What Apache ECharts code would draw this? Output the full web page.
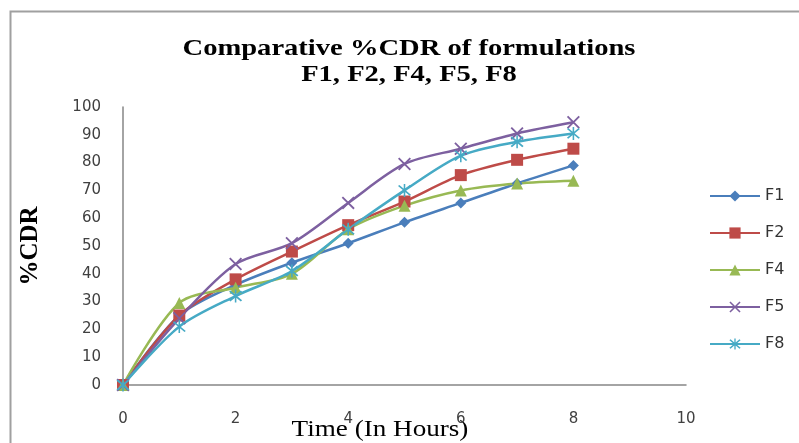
<!DOCTYPE html>
<html>
<head>
<meta charset="utf-8">
<script src="https://cdn.jsdelivr.net/npm/echarts@6/dist/echarts.min.js"></script>
<style>
  html, body { margin: 0; padding: 0; background: #fff; }
  #chart { width: 799px; height: 443px; }
</style>
</head>
<body>
<div id="chart"></div>
<script>
// Time points (hours) and cumulative drug release (%) per formulation
const hours = [0, 1, 2, 3, 4, 5, 6, 7, 8];
const f1 = [0, 25, 36, 44, 51, 58.5, 65.5, 72.5, 79];
const f2 = [0, 25, 38, 48, 57.5, 66, 75.5, 81, 85];
const f4 = [0, 29.5, 35, 40, 56, 64.5, 70, 72.5, 73.5];
const f5 = [0, 24, 43.5, 51, 65.5, 79.5, 85, 90.5, 94.5];
const f8 = [0, 21, 32, 41, 56, 70, 82.5, 87.5, 90.5];

const seriesNames = ['F1', 'F2', 'F4', 'F5', 'F8'];
const seriesValues = [f1, f2, f4, f5, f8];
const colors = ['#4A7EBB', '#BE4B48', '#98B954', '#7D60A0', '#46AAC5'];

const titleLines = ['Comparative %CDR of formulations', 'F1, F2, F4, F5, F8'];
const xAxisTitle = 'Time (In Hours)';
const yAxisTitle = '%CDR';

// marker shapes: diamond, square, triangle, x-cross, asterisk
const crossPath = 'path://M0,1 L1,0 L10,9 L9,10 Z M9,0 L10,1 L1,10 L0,9 Z';
const starPath = 'path://M0,1 L1,0 L10,9 L9,10 Z M9,0 L10,1 L1,10 L0,9 Z M4.4,-1 L5.6,-1 L5.6,11 L4.4,11 Z';
const symbols = ['diamond', 'rect', 'triangle', crossPath, starPath];
const symbolSizes = [11, 12, 12, 13, 13];

const serifFont = '"Liberation Serif", "DejaVu Serif", serif';
const sansFont = '"DejaVu Sans", "Open Sans", sans-serif';

const chart = echarts.init(document.getElementById('chart'));

chart.setOption({
  animation: false,
  backgroundColor: '#fff',
  legend: {
    orient: 'vertical',
    left: 704,
    top: 183,
    itemWidth: 50,
    itemHeight: 14,
    itemGap: 21,
    textStyle: {
      fontFamily: sansFont,
      fontSize: 16,
      color: '#333'
    },
    data: seriesNames
  },
  grid: {
    left: 123,
    right: 113,
    top: 107,
    bottom: 58,
    containLabel: false
  },
  xAxis: {
    type: 'value',
    min: 0,
    max: 10,
    interval: 2,
    axisLine: { show: true, lineStyle: { color: '#868686', width: 1.5 } },
    axisTick: { show: false },
    splitLine: { show: false },
    axisLabel: {
      margin: 27,
      fontFamily: sansFont,
      fontSize: 15,
      color: '#404040'
    }
  },
  yAxis: {
    type: 'value',
    min: 0,
    max: 100,
    interval: 10,
    name: yAxisTitle,
    nameLocation: 'middle',
    nameGap: 80,
    nameRotate: 90,
    nameTextStyle: {
      fontFamily: serifFont,
      fontWeight: 'bold',
      fontSize: 25,
      color: '#000'
    },
    axisLine: { show: true, lineStyle: { color: '#868686', width: 1.5 } },
    axisTick: { show: false },
    splitLine: { show: false },
    axisLabel: {
      margin: 22,
      fontFamily: sansFont,
      fontSize: 15,
      color: '#404040'
    }
  },
  graphic: [
    {
      type: 'rect',
      shape: { x: 10.5, y: 11.5, width: 820, height: 460 },
      style: { fill: 'none', stroke: '#a0a0a0', lineWidth: 2 },
      silent: true,
      z: -1
    },
    {
      type: 'text',
      x: 409,
      y: 37,
      scaleX: 1.19,
      style: {
        text: titleLines[0],
        font: 'bold 24px ' + serifFont,
        fill: '#000',
        align: 'center',
        verticalAlign: 'top'
      }
    },
    {
      type: 'text',
      x: 409,
      y: 63,
      scaleX: 1.19,
      style: {
        text: titleLines[1],
        font: 'bold 24px ' + serifFont,
        fill: '#000',
        align: 'center',
        verticalAlign: 'top'
      }
    },
    {
      type: 'text',
      x: 380,
      y: 418,
      scaleX: 1.13,
      style: {
        text: xAxisTitle,
        font: '24px ' + serifFont,
        fill: '#000',
        align: 'center',
        verticalAlign: 'top'
      }
    }
  ],
  series: seriesNames.map((name, i) => ({
    name: name,
    type: 'line',
    smooth: 0.3,
    data: hours.map((h, k) => [h, seriesValues[i][k]]),
    symbol: symbols[i],
    symbolSize: symbolSizes[i],
    showAllSymbol: true,
    lineStyle: { color: colors[i], width: 2.5 },
    itemStyle: { color: colors[i] },
    color: colors[i]
  }))
});
</script>
</body>
</html>
